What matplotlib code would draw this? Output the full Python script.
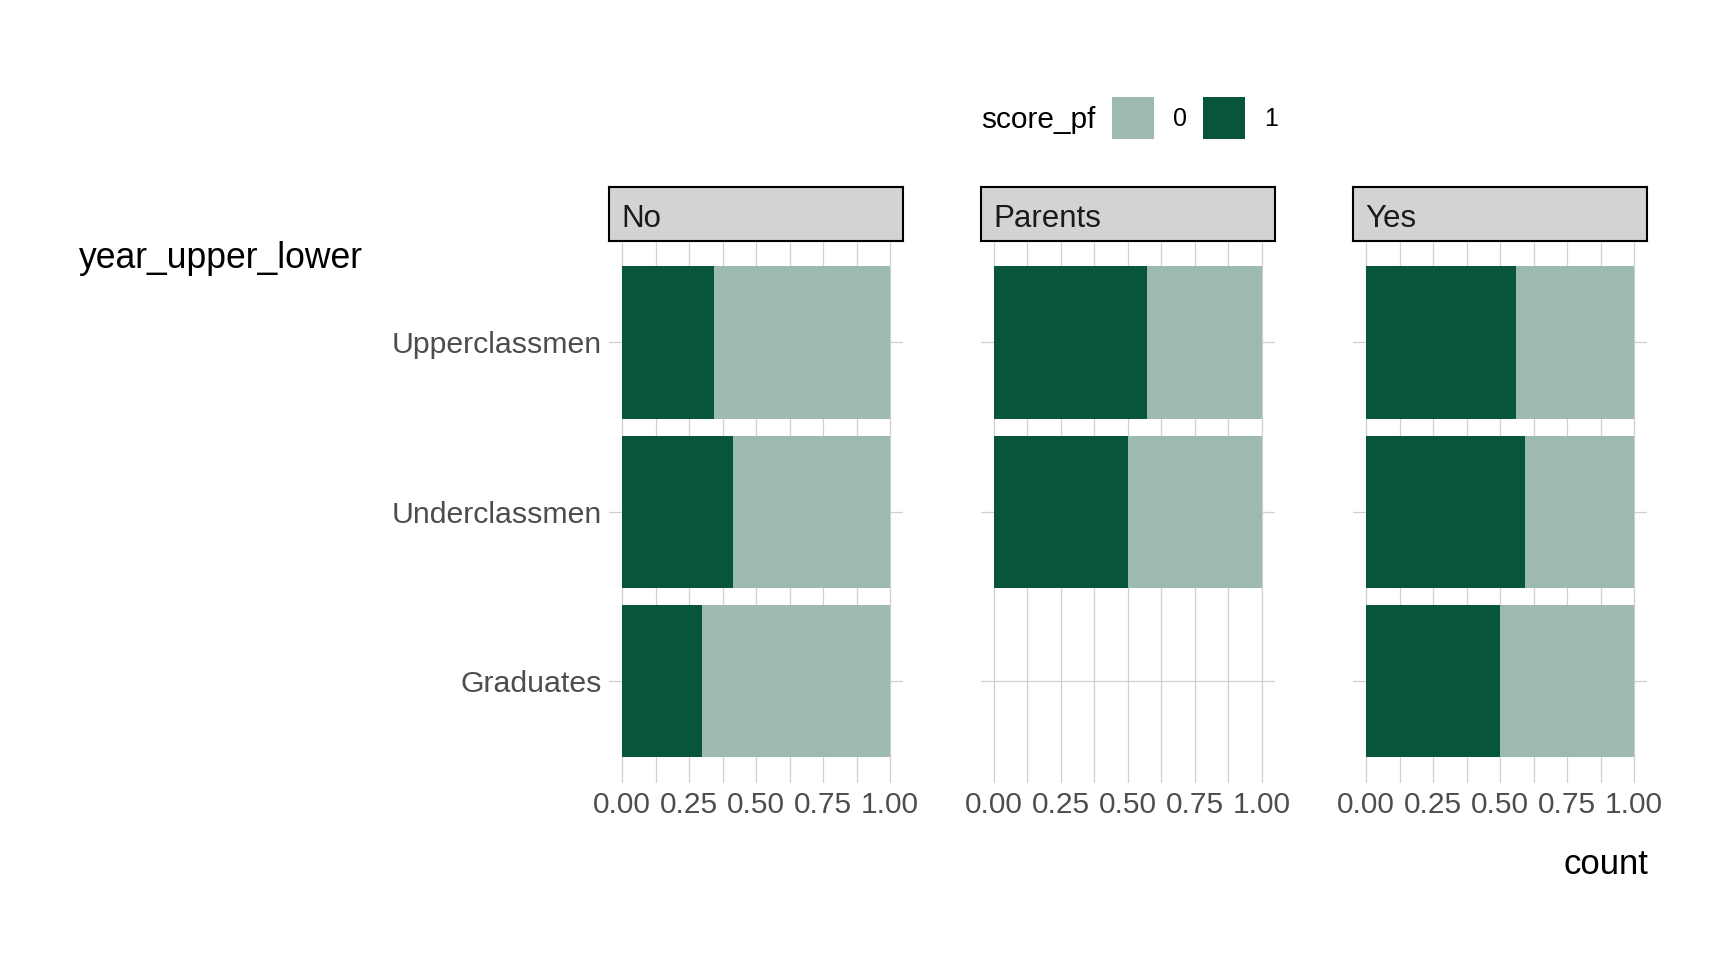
import numpy as np
import matplotlib
matplotlib.use('Agg')
import matplotlib.pyplot as plt
from matplotlib.patches import Patch

plt.rcParams['font.family'] = ['Liberation Sans', 'DejaVu Sans']

# data
facets = ['No', 'Parents', 'Yes']
groups = ['Graduates', 'Underclassmen', 'Upperclassmen']   # bottom -> top
# share of score_pf == 1 for each group (nan = no data)
share_no = [0.299, 0.413, 0.344]
share_parents = [np.nan, 0.50, 0.572]
share_yes = [0.50, 0.594, 0.561]
shares = [share_no, share_parents, share_yes]

dark = '#07553A'
light = '#9CBBAE'
grid_col = '#D0D0D0'
tick_col = '#4D4D4D'

fig = plt.figure(figsize=(17.28, 9.6), dpi=100)
W, H = 1728, 960

panel_lefts = [608.6, 980.6, 1352.6]
panel_w = 294.8
panel_top, panel_bot = 240.8, 782.7
strip_top = 187

ypos = np.arange(len(groups))
xticks = [0, 0.25, 0.5, 0.75, 1.0]

for i, (name, sh) in enumerate(zip(facets, shares)):
    left = panel_lefts[i]
    ax = fig.add_axes([left / W, 1 - panel_bot / H, panel_w / W, (panel_bot - panel_top) / H])
    sh = np.array(sh)
    ok = ~np.isnan(sh)
    ax.barh(ypos[ok], sh[ok], height=0.9, color=dark, zorder=2)
    ax.barh(ypos[ok], 1 - sh[ok], left=sh[ok], height=0.9, color=light, zorder=2)
    ax.set_xlim(-0.05, 1.05)
    ax.set_ylim(-0.6, len(groups) - 0.4)
    ax.set_xticks(xticks)
    ax.set_xticklabels(['%.2f' % t for t in xticks])
    ax.set_xticks(np.arange(0.125, 1.0, 0.25), minor=True)
    ax.set_yticks(ypos)
    if i == 0:
        ax.set_yticklabels(groups)
    else:
        ax.set_yticklabels([])
    ax.grid(True, which='both', axis='x', color=grid_col, linewidth=0.9, zorder=0)
    ax.grid(True, which='major', axis='y', color=grid_col, linewidth=0.9, zorder=0)
    ax.set_axisbelow(True)
    ax.tick_params(which='both', length=0, labelsize=21.5, labelcolor=tick_col)
    ax.tick_params(axis='x', pad=6)
    ax.tick_params(axis='y', pad=4.7, labelsize=21.8)
    for s in ax.spines.values():
        s.set_visible(False)

    # strip
    sax = fig.add_axes([left / W, 1 - panel_top / H, panel_w / W, (panel_top - strip_top) / H])
    sax.set_facecolor('#D3D3D3')
    sax.set_xticks([])
    sax.set_yticks([])
    for s in sax.spines.values():
        s.set_color('black')
        s.set_linewidth(1.5)
    sax.text(13 / panel_w, 0.4, name, transform=sax.transAxes, ha='left', va='center',
             fontsize=22.5, color='#1A1A1A')

# axis titles
fig.text(1648 / W, 1 - 864 / H, 'count', ha='right', va='center', fontsize=25)
fig.text(79 / W, 1 - 259 / H, 'year_upper_lower', ha='left', va='center', fontsize=25.6)

# legend
fig.text(1096 / W, 1 - 120 / H, 'score_pf', ha='right', va='center', fontsize=21.5)
handles = [Patch(facecolor=light, edgecolor='none'), Patch(facecolor=dark, edgecolor='none')]
fig.legend(handles, ['0', '1'], loc='center left', bbox_to_anchor=(1112 / W, 1 - 118 / H),
           ncol=2, frameon=False, fontsize=18, handlelength=1.68, handleheight=2.15,
           handletextpad=0.75, columnspacing=0.65, borderpad=0, borderaxespad=0)

fig.savefig('out.png', dpi=100, facecolor='white')
